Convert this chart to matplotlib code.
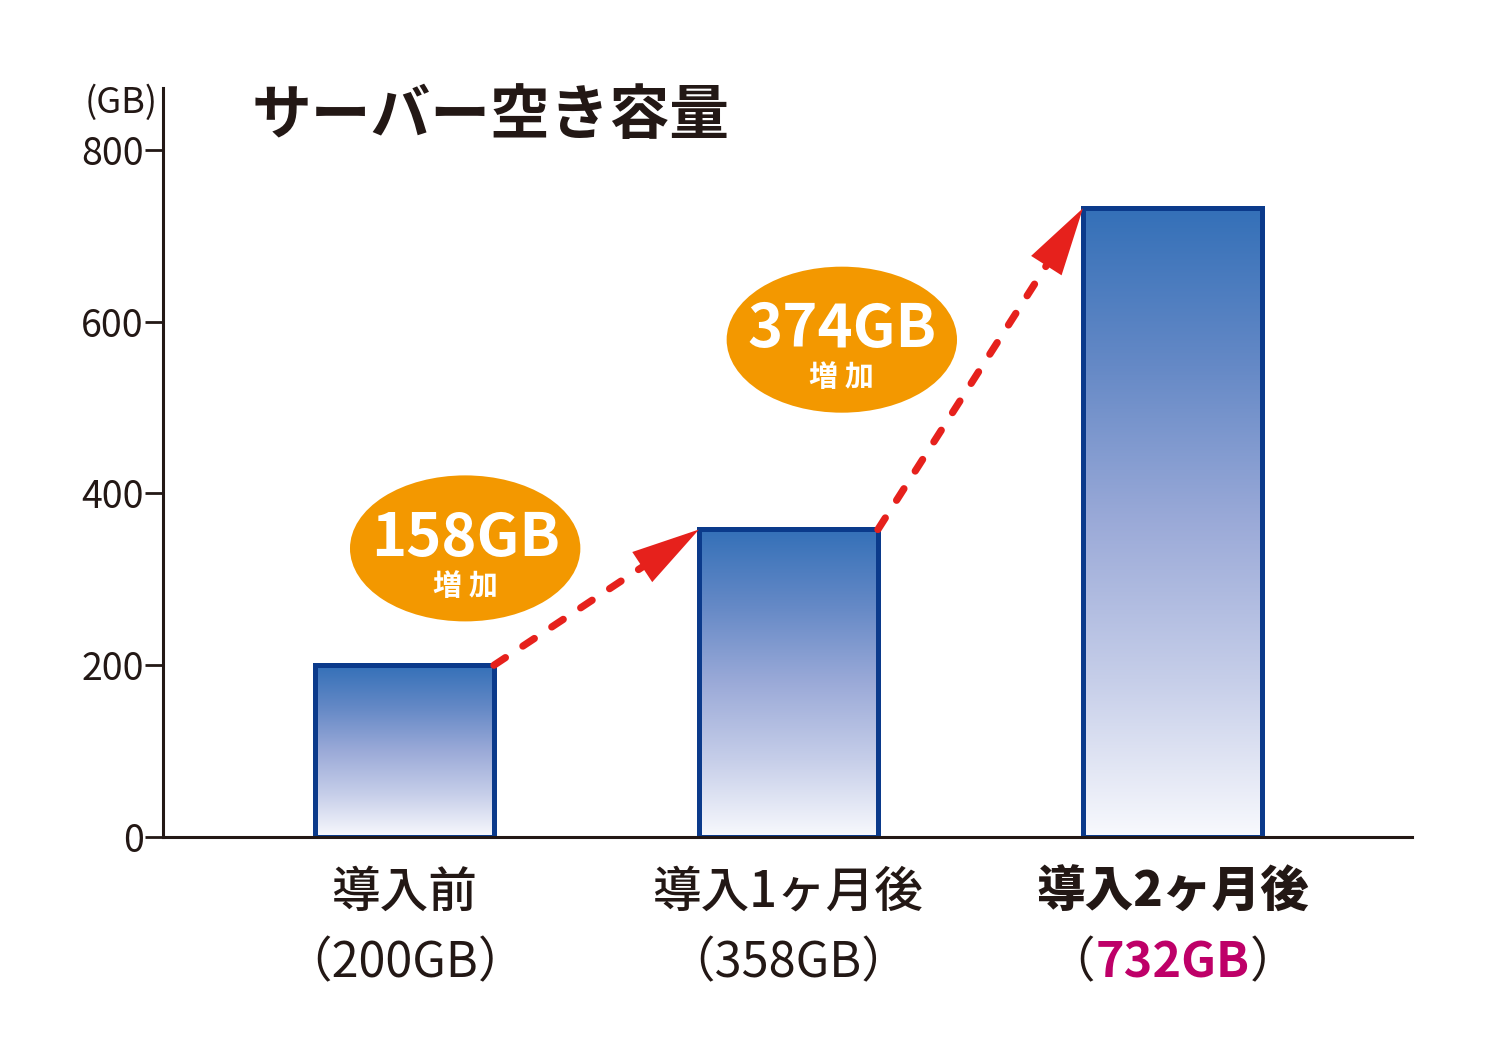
import numpy as np
import matplotlib
matplotlib.use("Agg")
import matplotlib.pyplot as plt
from matplotlib.colors import LinearSegmentedColormap
from matplotlib.patches import Ellipse, FancyArrowPatch

plt.rcParams["font.family"] = ["Noto Sans CJK JP", "DejaVu Sans"]

# data
categories = ["導入前", "導入1ヶ月後", "導入2ヶ月後"]
values = [200, 358, 732]
y_ticks = [0, 200, 400, 600, 800]
title = "サーバー空き容量"
unit_label = "(GB)"

# layout / style
DARK = "#231815"
EDGE = "#0B3A8B"
RED = "#E6211C"
ORANGE = "#F39800"
MAGENTA = "#BE0068"
bar_width = 0.466
bubble_pos = [(0.158, 336), (1.139, 579)]
bubble_size = (0.60, 170)

grad_cmap = LinearSegmentedColormap.from_list(
    "bar", ["#F8F9FD", "#C6CEE9", "#9BAAD8", "#6589C6", "#3470B8"]
)

fig = plt.figure(figsize=(15, 10.5), dpi=100)
ax = fig.add_axes([163 / 1500, 213 / 1050, (1412 - 163) / 1500, (837 - 88) / 1050])

x = np.arange(len(values))
grad = np.linspace(1, 0, 256).reshape(-1, 1)
for xi, v in zip(x, values):
    ax.imshow(grad, extent=[xi - bar_width / 2, xi + bar_width / 2, 0, v],
              aspect="auto", cmap=grad_cmap, vmin=0, vmax=1, zorder=1,
              interpolation="bilinear")
ax.bar(x, values, width=bar_width, facecolor="none", edgecolor=EDGE,
       linewidth=3.6, zorder=2)

ax.set_xlim(-0.629, 2.624)
ax.set_ylim(0, 872)

# spines / ticks
for s in ["top", "right"]:
    ax.spines[s].set_visible(False)
for s in ["left", "bottom"]:
    ax.spines[s].set_color(DARK)
    ax.spines[s].set_linewidth(2.2)
    ax.spines[s].set_zorder(3)
ax.set_xticks([])
ax.set_yticks(y_ticks)
ax.set_yticklabels([str(t) for t in y_ticks])
ax.tick_params(axis="y", direction="out", length=13, width=2, color=DARK,
               labelsize=27, labelcolor=DARK, pad=1)

fig.canvas.draw()

# arrows between bar tops
for i in range(len(values) - 1):
    start = (x[i] + bar_width / 2, values[i])
    end = (x[i + 1] - bar_width / 2, values[i + 1])
    p0 = ax.transData.transform(start)
    p1 = ax.transData.transform(end)
    d = (p1 - p0) / np.hypot(*(p1 - p0))
    stop = ax.transData.inverted().transform(p1 - d * 45)
    ax.plot([start[0], stop[0]], [start[1], stop[1]], color=RED, lw=5.2,
            ls=(0, (1.9, 2.9)), dash_capstyle="round", zorder=4,
            clip_on=False)
    head = FancyArrowPatch(start, end,
                           arrowstyle="-|>,head_length=49,head_width=13",
                           mutation_scale=1, lw=0, color=RED,
                           shrinkA=0, shrinkB=0, zorder=5)
    ax.add_patch(head)

    # increase bubble
    bx, by = bubble_pos[i]
    ax.add_patch(Ellipse((bx, by), bubble_size[0], bubble_size[1],
                         facecolor=ORANGE, edgecolor="none", zorder=4))
    ax.annotate(f"{values[i + 1] - values[i]}GB", (bx, by),
                xytext=(0, 7), textcoords="offset points",
                ha="center", va="center", fontsize=43, fontweight="bold",
                color="white", zorder=6)
    ax.annotate("増 加", (bx, by), xytext=(0, -27),
                textcoords="offset points", ha="center", va="center",
                fontsize=21, fontweight="bold", color="white", zorder=6)

# category labels
for i, (xi, cat, v) in enumerate(zip(x, categories, values)):
    last = i == len(values) - 1
    ax.annotate(cat, (xi, 0), xytext=(0, -40), textcoords="offset points",
                ha="center", va="center", fontsize=35,
                fontweight="heavy" if last else "medium", color=DARK,
                annotation_clip=False)
    if not last:
        ax.annotate(f"（{v}GB）", (xi, 0), xytext=(0, -91),
                    textcoords="offset points", ha="center", va="center",
                    fontsize=35, color=DARK, annotation_clip=False)
    else:
        mid = ax.annotate(f"{v}GB", (xi, 0), xytext=(0, -91),
                          textcoords="offset points", ha="center",
                          va="center", fontsize=35, fontweight="bold",
                          color=MAGENTA, annotation_clip=False)
        ax.annotate("（", xy=(0, 0.5), xycoords=mid, ha="right",
                    va="center", fontsize=35, color=DARK)
        ax.annotate("）", xy=(1, 0.5), xycoords=mid, ha="left",
                    va="center", fontsize=35, color=DARK)

fig.text(158 / 1500, 1 - 103 / 1050, unit_label, ha="right", va="center",
         fontsize=26, color=DARK)
fig.text(252 / 1500, 1 - 117 / 1050, title, ha="left", va="center",
         fontsize=43, fontweight="bold", color=DARK)

fig.savefig("out.png", dpi=100, facecolor="white")
